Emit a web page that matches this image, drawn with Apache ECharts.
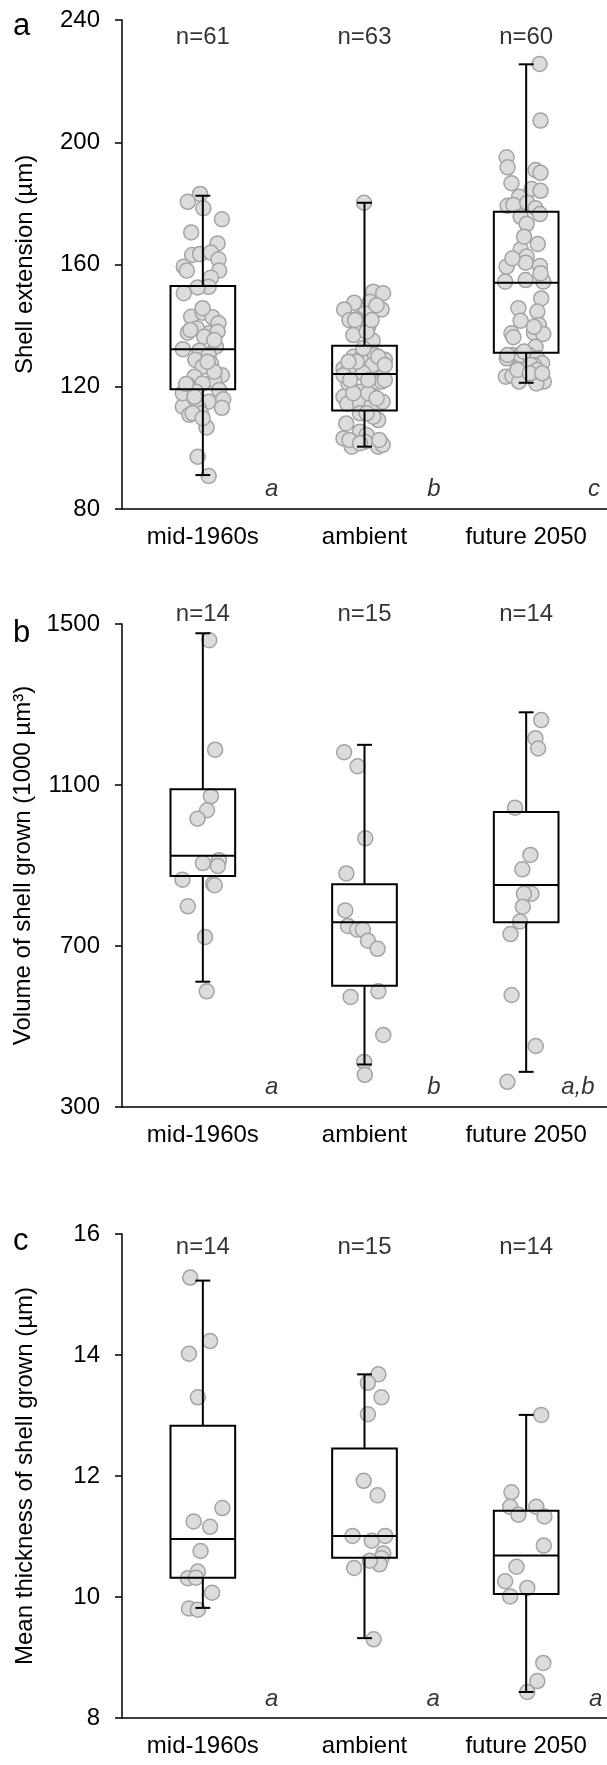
<!DOCTYPE html>
<html>
<head>
<meta charset="utf-8">
<script src="https://cdn.jsdelivr.net/npm/echarts@6/dist/echarts.min.js"></script>
<style>
  html, body { margin: 0; padding: 0; background: #fff; }
  #main { width: 607px; height: 1765px; }
</style>
</head>
<body>
<div id="main"></div>
<script>
// categories shared by all three panels
const categories = ['mid-1960s', 'ambient', 'future 2050'];

// panel a: shell extension (µm)
const extN = ['n=61', 'n=63', 'n=60'];
const extLetters = ['a', 'b', 'c'];
// whisker low, Q1, median, Q3, whisker high
const extBox = [
  [91.1, 119.2, 132.3, 153.0, 182.5],
  [100.4, 112.2, 124.2, 133.4, 180.2],
  [121.3, 131.1, 154.0, 177.3, 225.5]
];
const ext1960 = [183.1, 180.5, 178.4, 174.8, 170.5, 166.9, 163.1, 163.4, 163.9, 161.7,
  159.3, 158.0, 158.0, 155.7, 152.7, 152.5, 150.6, 142.9, 144.2, 142.7,
  140.8, 137.7, 139.1, 137.5, 136.4, 132.3, 131.8, 133.1, 130.4, 128.8,
  127.7, 126.6, 123.8, 123.3, 122.2, 120.6, 121.1, 118.9, 118.4, 116.2,
  115.1, 115.9, 113.5, 113.0, 113.1, 110.8, 111.3, 106.7, 97.1, 90.8,
  124.9, 138.6, 138.0, 111.3, 128.2, 117.9, 145.7, 116.7, 109.7, 120.9, 135.3];
const ext1960Jit = [-0.017, -0.093, 0.003, 0.118, -0.072, 0.091, -0.066, -0.017, 0.050, 0.097,
  -0.118, -0.099, 0.101, 0.050, 0.036, -0.032, -0.118, -0.072, -0.001, 0.060,
  0.097, -0.093, -0.036, 0.040, 0.009, -0.124, -0.021, 0.081, 0.036, -0.046,
  0.050, -0.001, 0.118, -0.052, 0.071, -0.093, -0.001, 0.101, -0.042, -0.083,
  0.036, 0.126, -0.124, -0.026, 0.118, -0.083, -0.011, 0.023, -0.032, 0.036,
  0.071, -0.077, 0.091, -0.063, 0.029, -0.124, -0.001, -0.052, -0.001, -0.103, 0.071];
const extAmb = [180.2, 151.1, 150.6, 147.5, 147.8, 145.3, 145.3, 144.0, 141.8, 142.1,
  139.6, 136.9, 135.1, 129.8, 130.4, 130.4, 128.8, 126.0, 126.4, 127.1,
  124.4, 123.3, 121.1, 121.7, 118.4, 116.7, 117.0, 114.4, 114.6, 114.0,
  115.1, 111.3, 109.1, 108.0, 105.3, 104.2, 103.1, 101.5, 100.4, 101.0,
  102.0, 100.4, 128.2, 129.8, 122.2, 117.9, 117.9, 116.2, 127.1, 123.8,
  122.2, 122.2, 141.8, 146.7, 138.0, 141.8, 132.6, 128.2, 110.2, 102.6,
  101.5, 102.6, 111.3];
const extAmbJit = [-0.003, 0.054, 0.115, -0.064, 0.034, -0.126, 0.106, 0.003, -0.093, -0.048,
  0.023, -0.069, 0.050, -0.069, -0.011, 0.064, 0.126, -0.130, -0.093, 0.050,
  -0.007, 0.112, -0.099, 0.106, -0.028, -0.130, 0.054, -0.106, -0.028, 0.044,
  0.112, -0.028, 0.085, -0.113, -0.028, 0.013, -0.130, -0.064, 0.085, 0.112,
  0.003, -0.079, -0.048, 0.085, 0.126, -0.069, 0.023, 0.075, 0.126, -0.130,
  -0.089, 0.023, -0.058, 0.075, 0.013, 0.044, -0.007, -0.099, 0.054, -0.093,
  -0.028, 0.091, 0.013];
const ext2050 = [225.6, 207.1, 195.1, 191.8, 190.9, 190.0, 186.6, 184.7, 184.1, 182.2,
  179.2, 179.5, 180.2, 178.4, 176.5, 175.6, 173.3, 166.7, 165.0, 162.6,
  160.6, 159.3, 159.5, 154.4, 154.9, 154.4, 148.9, 145.7, 144.6, 141.6,
  140.2, 137.5, 137.7, 137.3, 136.2, 133.1, 130.4, 130.4, 129.3, 130.4,
  129.3, 127.7, 127.1, 123.3, 123.5, 121.7, 122.8, 121.7, 121.1, 131.5,
  127.1, 169.1, 162.0, 157.1, 125.5, 125.5, 124.4, 124.4, 130.4, 139.6];
const ext2050Jit = [0.083, 0.089, -0.121, -0.115, 0.058, 0.089, -0.091, 0.034, 0.089, -0.044,
  -0.115, -0.079, 0.007, 0.058, 0.085, -0.034, 0.003, 0.072, -0.034, 0.003,
  -0.003, -0.121, 0.085, -0.130, -0.003, 0.106, 0.093, -0.048, 0.069, -0.034,
  0.079, -0.091, 0.048, 0.106, -0.079, 0.058, -0.085, -0.034, -0.120, 0.017,
  0.069, 0.099, 0.048, -0.126, -0.085, -0.044, 0.048, 0.109, 0.064, -0.013,
  0.028, -0.013, -0.085, 0.089, -0.054, 0.069, 0.023, 0.099, -0.115, 0.048];

// panel b: volume of shell grown (1000 µm³)
const volN = ['n=14', 'n=15', 'n=14'];
const volLetters = ['a', 'b', 'a,b'];
const volBox = [
  [611.3, 873.9, 924.4, 1089.6, 1477],
  [405.6, 601.2, 759.1, 853.7, 1199.8],
  [387.3, 759.1, 851.8, 1032.7, 1280.6]
];
const vol1960 = [1459.6, 1187.8, 1072.2, 1037.3, 1016.2, 906.0, 913.3, 898.6, 864.7, 853.7, 850.9, 798.6, 722.4, 587.4];
const vol1960Jit = [0.040, 0.076, 0.050, 0.026, -0.033, 0.000, 0.100, 0.093, -0.126, 0.064, 0.074, -0.093, 0.014, 0.024];
const volAmb = [1181.4, 1146.5, 967.5, 880.3, 788.5, 749.9, 740.7, 740.7, 713.2, 693.0, 573.6, 587.4, 479.1, 412.1, 380.0];
const volAmbJit = [-0.126, -0.043, 0.005, -0.112, -0.119, -0.102, -0.045, -0.010, 0.021, 0.081, -0.086, 0.086, 0.116, -0.002, 0.002];
const vol2050 = [1261.3, 1216.3, 1190.6, 1043.7, 926.2, 890.4, 829.8, 829.8, 797.7, 760.9, 729.7, 578.2, 451.5, 362.5];
const vol2050Jit = [0.093, 0.057, 0.074, -0.069, 0.026, -0.024, 0.033, -0.014, -0.021, -0.038, -0.097, -0.090, 0.059, -0.116];

// panel c: mean thickness of shell grown (µm)
const thkN = ['n=14', 'n=15', 'n=14'];
const thkLetters = ['a', 'a', 'a'];
const thkBox = [
  [9.82, 10.32, 10.96, 12.83, 15.23],
  [9.32, 10.65, 11.01, 12.455, 13.68],
  [8.43, 10.05, 10.685, 11.425, 13.01]
];
const thk1960 = [15.28, 14.23, 14.02, 13.30, 11.47, 11.25, 11.16, 10.76, 10.42, 10.31, 10.32, 10.07, 9.81, 9.79];
const thk1960Jit = [-0.078, 0.045, -0.086, -0.031, 0.121, -0.057, 0.045, -0.014, -0.031, -0.093, -0.043, 0.057, -0.086, -0.031];
const thkAmb = [13.68, 13.54, 13.30, 13.02, 11.92, 11.68, 11.01, 10.93, 11.01, 10.72, 10.64, 10.54, 10.48, 9.30, 10.60];
const thkAmbJit = [0.086, 0.021, 0.105, 0.021, -0.005, 0.081, -0.074, 0.045, 0.128, 0.116, 0.105, 0.093, -0.064, 0.057, 0.033];
const thk2050 = [13.01, 11.73, 11.49, 11.49, 11.36, 11.33, 10.85, 10.50, 10.26, 10.15, 10.01, 8.91, 8.61, 8.43];
const thk2050Jit = [0.093, -0.091, -0.099, 0.063, -0.048, 0.113, 0.109, -0.060, -0.130, 0.007, -0.099, 0.106, 0.069, 0.007];

const FONT = '"Liberation Sans", Arial, Helvetica, sans-serif';

// layout of the three panels (pixels + where the texts sit)
const panels = [
  { tag: 'a', top: 20, height: 489, tagY: 11, min: 80, max: 240, interval: 40,
    name: 'Shell extension (µm)', nY: 234.4, letterY: 86.5, letterX: [0.926, 1.93, 2.92],
    n: extN, letters: extLetters, box: extBox,
    pts: [ext1960, extAmb, ext2050], jit: [ext1960Jit, extAmbJit, ext2050Jit] },
  { tag: 'b', top: 624, height: 483, tagY: 618, min: 300, max: 1500, interval: 400,
    name: 'Volume of shell grown (1000 µm³)', nY: 1525, letterY: 350, letterX: [0.926, 1.93, 2.82],
    n: volN, letters: volLetters, box: volBox,
    pts: [vol1960, volAmb, vol2050], jit: [vol1960Jit, volAmbJit, vol2050Jit] },
  { tag: 'c', top: 1234, height: 484, tagY: 1226, min: 8, max: 16, interval: 2,
    name: 'Mean thickness of shell grown (µm)', nY: 15.78, letterY: 8.31, letterX: [0.926, 1.925, 2.93],
    n: thkN, letters: thkLetters, box: thkBox,
    pts: [thk1960, thkAmb, thk2050], jit: [thk1960Jit, thkAmbJit, thk2050Jit] }
];

const black = { color: '#000', width: 1.5 };

const renderBox = (params, api) => {
  const x = api.value(0);
  const lo = api.coord([x, api.value(1)]);
  const q1 = api.coord([x, api.value(2)]);
  const med = api.coord([x, api.value(3)]);
  const q3 = api.coord([x, api.value(4)]);
  const hi = api.coord([x, api.value(5)]);
  const half = api.size([0.2, 0])[0];
  const cap = api.size([0.046, 0])[0];
  const line = (x1, y1, x2, y2) => ({ type: 'line', shape: { x1, y1, x2, y2 }, style: { stroke: '#000', lineWidth: 2 } });
  return {
    type: 'group',
    children: [
      line(hi[0], hi[1], q3[0], q3[1]),
      line(lo[0], lo[1], q1[0], q1[1]),
      line(hi[0] - cap, hi[1], hi[0] + cap, hi[1]),
      line(lo[0] - cap, lo[1], lo[0] + cap, lo[1]),
      { type: 'rect', shape: { x: q3[0] - half, y: q3[1], width: half * 2, height: q1[1] - q3[1] },
        style: { stroke: '#000', lineWidth: 2, fill: null } },
      line(med[0] - half, med[1], med[0] + half, med[1])
    ]
  };
};

const textLabel = (italic) => ({
  show: true, position: 'inside', formatter: '{b}',
  color: '#000', fontSize: 24, fontFamily: FONT,
  fontStyle: italic ? 'italic' : 'normal',
  textBorderWidth: 0, textShadowBlur: 0
});

const grid = [], xAxis = [], yAxis = [], series = [], graphic = [];
panels.forEach((p, i) => {
  grid.push({ left: 122, right: -4, top: p.top, height: p.height });
  // panel letter
  graphic.push({
    type: 'text', x: 13, y: p.tagY, silent: true,
    style: { text: p.tag, fill: '#000', font: '31px ' + FONT, verticalAlign: 'top' }
  });
  xAxis.push({
    type: 'category', gridIndex: i, data: categories,
    axisLine: { lineStyle: black },
    axisTick: { length: 6, lineStyle: black },
    axisLabel: { color: '#000', fontSize: 24, fontFamily: FONT, margin: 16 }
  });
  xAxis.push({ type: 'value', gridIndex: i, min: 0, max: 3, show: false });
  yAxis.push({
    type: 'value', gridIndex: i, min: p.min, max: p.max, interval: p.interval,
    axisLine: { show: true, lineStyle: black },
    axisTick: { show: true, length: 7, lineStyle: black },
    splitLine: { show: false },
    axisLabel: { color: '#000', fontSize: 24, fontFamily: FONT, margin: 22, formatter: v => String(v) },
    name: p.name, nameLocation: 'middle', nameGap: 85,
    nameTextStyle: { color: '#000', fontSize: 24, fontFamily: FONT }
  });

  const pts = [];
  p.pts.forEach((vals, g) => vals.forEach((v, k) => pts.push([g + 0.5 + p.jit[g][k], v])));
  series.push({
    type: 'scatter', xAxisIndex: 2 * i + 1, yAxisIndex: i, data: pts, z: 2, silent: true,
    symbolSize: 15,
    itemStyle: { color: '#dcdcdc', borderColor: '#a4a4a4', borderWidth: 1.5, opacity: 1 }
  });
  series.push({
    type: 'custom', xAxisIndex: 2 * i + 1, yAxisIndex: i, z: 3, silent: true,
    data: p.box.map((b, g) => [g + 0.5].concat(b)),
    renderItem: renderBox
  });
  series.push({
    type: 'scatter', xAxisIndex: 2 * i + 1, yAxisIndex: i, symbolSize: 0, clip: false, silent: true, z: 4,
    data: p.n.map((t, g) => ({ name: t, value: [g + 0.5, p.nY] })),
    label: textLabel(false)
  });
  series.push({
    type: 'scatter', xAxisIndex: 2 * i + 1, yAxisIndex: i, symbolSize: 0, clip: false, silent: true, z: 4,
    data: p.letters.map((t, g) => ({ name: t, value: [p.letterX[g], p.letterY] })),
    label: textLabel(true)
  });
});

const myChart = echarts.init(document.getElementById('main'));
myChart.setOption({ animation: false, graphic, grid, xAxis, yAxis, series });
</script>
</body>
</html>
